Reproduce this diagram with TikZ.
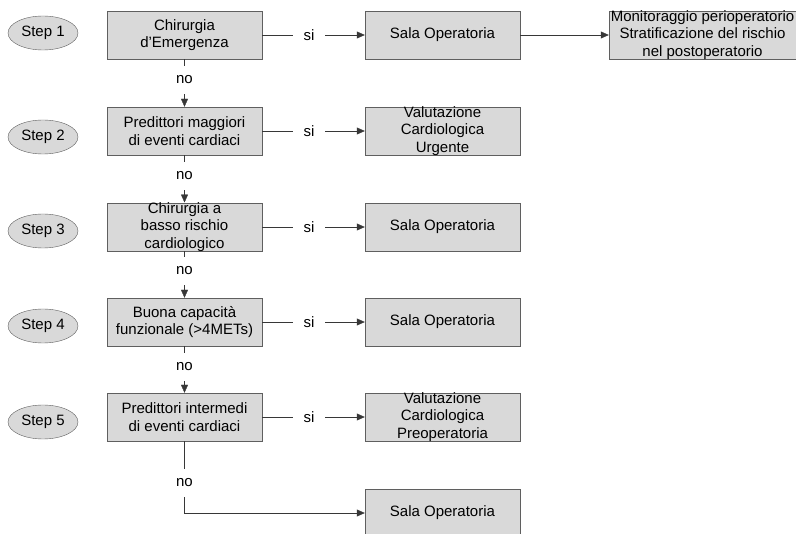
\documentclass[tikz,border=0pt]{standalone}
\usepackage{fontspec}
\setmainfont{Liberation Sans}
\usepackage{xcolor}
\usepackage{tikz}
\usetikzlibrary{shapes.geometric, arrows.meta, positioning}

\definecolor{boxgray}{RGB}{217,217,217}
\definecolor{linegray}{RGB}{55,55,55}

\begin{document}
\begin{tikzpicture}[x=1pt, y=-1pt,
    box/.style={rectangle, draw=linegray!80, fill=boxgray, minimum width=155pt, minimum height=48pt, inner sep=0pt, align=center, font=\fontsize{15}{17.3}\selectfont},
    stepoval/.style={ellipse, draw=linegray!80, fill=boxgray, minimum width=70pt, minimum height=34pt, inner sep=0pt, font=\fontsize{15}{17.3}\selectfont},
    lbl/.style={inner xsep=10.5pt, inner ysep=10pt, font=\fontsize{15}{17.3}\selectfont},
    line/.style={draw=linegray, thin},
    arrow/.style={-{Triangle[length=8pt, width=7pt]}, draw=linegray, thin}
]
    \useasboundingbox (0,0) rectangle (796,534);

    % step labels
    \node[stepoval] (s1) at (43,33) {Step 1};
    \node[stepoval] (s2) at (43,137) {Step 2};
    \node[stepoval] (s3) at (43,231) {Step 3};
    \node[stepoval] (s4) at (43,326) {Step 4};
    \node[stepoval] (s5) at (43,422) {Step 5};

    % questions
    \node[box] (q1) at (184.5,35) {Chirurgia\\d’Emergenza};
    \node[box] (q2) at (184.5,131) {Predittori maggiori\\di eventi cardiaci};
    \node[box] (q3) at (184.5,227) {Chirurgia a\\basso rischio\\cardiologico};
    \node[box] (q4) at (184.5,322) {Buona capacità\\funzionale (>4METs)};
    \node[box] (q5) at (184.5,417) {Predittori intermedi\\di eventi cardiaci};

    % outcomes
    \node[box] (r1) at (442.5,35) {Sala Operatoria};
    \node[box] (r2) at (442.5,131) {Valutazione\\Cardiologica\\Urgente};
    \node[box] (r3) at (442.5,227) {Sala Operatoria};
    \node[box] (r4) at (442.5,322) {Sala Operatoria};
    \node[box] (r5) at (442.5,417) {Valutazione\\Cardiologica\\Preoperatoria};
    \node[box] (r6) at (442.5,513) {Sala Operatoria};
    \node[box, minimum width=187pt] (mon) at (702.5,35) {Monitoraggio perioperatorio\\Stratificazione del rischio\\nel postoperatorio};

    % si / no
    \foreach \i/\y in {1/35, 2/131, 3/227, 4/322, 5/417} {
        \node[lbl] (si\i) at (309,\y) {si};
        \draw[line] (q\i) -- (si\i);
        \draw[arrow] (si\i) -- (r\i);
    }
    \foreach \i/\j/\y in {1/2/80, 2/3/176, 3/4/271, 4/5/367} {
        \node[lbl] (no\i) at (184.5,\y) {no};
        \draw[line] (q\i) -- (no\i);
        \draw[arrow] (no\i) -- (q\j);
    }
    \node[lbl] (no5) at (184.5,483) {no};
    \draw[line] (q5) -- (no5);
    \draw[arrow] (no5) |- (r6);

    \draw[arrow] (r1) -- (mon);
\end{tikzpicture}
\end{document}
